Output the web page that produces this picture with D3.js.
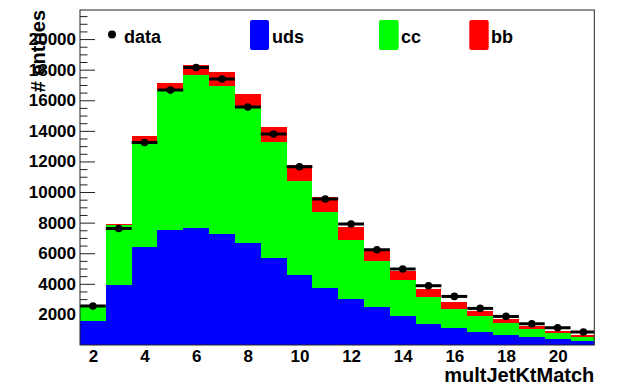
<!DOCTYPE html>
<html>
<head>
<meta charset="utf-8">
<script src="https://cdn.jsdelivr.net/npm/d3@7"></script>
<style>
  html, body { margin: 0; padding: 0; background: #fff; }
  svg { display: block; }
  text { font-family: "Liberation Sans", Arial, Helvetica, sans-serif; font-weight: bold; fill: #000; }
</style>
</head>
<body>
<svg id="chart" width="619" height="387"></svg>
<script>
// multJetKtMatch distribution: stacked flavour contributions and measured data
const bins = [2, 3, 4, 5, 6, 7, 8, 9, 10, 11, 12, 13, 14, 15, 16, 17, 18, 19, 20, 21];
const uds  = [1590, 3940, 6425, 7536, 7621, 7229, 6667, 5706, 4595, 3745, 2980, 2458, 1915, 1392, 1085, 869, 654, 497, 392, 281];
const cc   = [960, 3877, 6928, 9129, 10001, 9719, 8823, 7562, 6144, 4967, 3902, 3052, 2307, 1765, 1287, 1000, 758, 549, 392, 261];
const bb   = [20, 63, 327, 479, 698, 870, 915, 1000, 1045, 961, 804, 699, 634, 523, 438, 353, 261, 196, 131, 131];
const dataCounts = [2550, 7620, 13242, 16665, 18144, 17386, 15555, 13790, 11654, 9542, 7908, 6229, 4967, 3876, 3176, 2392, 1869, 1392, 1131, 850];
const yMajorTicks = [2000, 4000, 6000, 8000, 10000, 12000, 14000, 16000, 18000, 20000];
const xTicks = [2, 4, 6, 8, 10, 12, 14, 16, 18, 20];
const seriesKeys = ["uds", "cc", "bb"];
const seriesColors = { uds: "#0000ff", cc: "#00ff00", bb: "#ff0000" };

const svg = d3.select("#chart");
const pLeft = 80, pRight = 594.3, pTop = 10, pBottom = 345;

const x = d3.scaleLinear().domain([1.5, 21.42]).range([pLeft, pRight]);
const y = d3.scaleLinear().domain([0, 21900]).range([pBottom, pTop]);

svg.append("defs").append("clipPath").attr("id", "plotclip")
  .append("rect").attr("x", pLeft).attr("y", pTop)
  .attr("width", pRight - pLeft).attr("height", pBottom - pTop);

// y axis: minor and major ticks pointing into the frame
const minorVals = d3.range(500, 21900, 500).filter(v => v % 2000 !== 0);
const yMinor = svg.append("g").attr("transform", `translate(${pLeft},0)`)
  .call(d3.axisLeft(y).tickValues(minorVals).tickSize(-7.5).tickFormat(""));
yMinor.select(".domain").remove();
yMinor.selectAll("line").attr("stroke", "#222");

const yMajor = svg.append("g").attr("transform", `translate(${pLeft},0)`)
  .call(d3.axisLeft(y).tickValues(yMajorTicks).tickSize(-15).tickPadding(4).tickFormat(d3.format("d")));
yMajor.select(".domain").remove();
yMajor.selectAll("line").attr("stroke", "#222");
yMajor.selectAll("text").attr("font-size", 17).attr("font-family", null).style("font-weight", "bold");

// stacked histogram
const rows = bins.map((b, i) => ({ bin: b, uds: uds[i], cc: cc[i], bb: bb[i] }));
const stacked = d3.stack().keys(seriesKeys)(rows);

const plot = svg.append("g").attr("clip-path", "url(#plotclip)");
plot.selectAll("g.layer").data(stacked).join("g")
  .attr("class", "layer")
  .attr("fill", d => seriesColors[d.key])
  .selectAll("rect").data(d => d).join("rect")
  .attr("x", d => x(d.data.bin - 0.5))
  .attr("width", d => x(d.data.bin + 0.5) - x(d.data.bin - 0.5))
  .attr("y", d => y(d[1]))
  .attr("height", d => y(d[0]) - y(d[1]))
  .attr("shape-rendering", "crispEdges");

// data points with bin-width horizontal bars
const pts = bins.map((b, i) => ({ bin: b, v: dataCounts[i] }));
plot.selectAll("line.xerr").data(pts).join("line")
  .attr("class", "xerr")
  .attr("x1", d => x(d.bin - 0.5)).attr("x2", d => x(d.bin + 0.5))
  .attr("y1", d => y(d.v)).attr("y2", d => y(d.v))
  .attr("stroke", "#000").attr("stroke-width", 3);
plot.selectAll("circle.pt").data(pts).join("circle")
  .attr("class", "pt")
  .attr("cx", d => x(d.bin)).attr("cy", d => y(d.v)).attr("r", 3.8)
  .attr("fill", "#000");

// frame
svg.append("rect").attr("x", pLeft).attr("y", pTop)
  .attr("width", pRight - pLeft).attr("height", pBottom - pTop)
  .attr("fill", "none").attr("stroke", "#222").attr("stroke-width", 1);

// x axis labels
const xAxis = svg.append("g").attr("transform", `translate(0,${pBottom})`)
  .call(d3.axisBottom(x).tickValues(xTicks).tickSize(0).tickPadding(5).tickFormat(d3.format("d")));
xAxis.select(".domain").remove();
xAxis.selectAll("text").attr("font-size", 17).attr("font-family", null).style("font-weight", "bold");

// axis titles
svg.append("text").attr("x", pRight).attr("y", 381.5).attr("text-anchor", "end")
  .attr("font-size", 20).text("multJetKtMatch");
svg.append("text").attr("transform", "translate(45,10) rotate(-90)").attr("text-anchor", "end")
  .attr("font-size", 20).text("# entries");

// legend
const legend = svg.append("g");
legend.append("circle").attr("cx", 112).attr("cy", 34.5).attr("r", 4).attr("fill", "#000");
legend.append("text").attr("x", 124).attr("y", 42.5).attr("font-size", 18).text("data");
const legendItems = [
  { key: "uds", x0: 250, x1: 269, tx: 272 },
  { key: "cc", x0: 379, x1: 398.7, tx: 401 },
  { key: "bb", x0: 469.3, x1: 488.7, tx: 491 }
];
legendItems.forEach(it => {
  legend.append("rect").attr("x", it.x0).attr("y", 20).attr("width", it.x1 - it.x0).attr("height", 30)
    .attr("rx", 2).attr("fill", seriesColors[it.key]);
  legend.append("text").attr("x", it.tx).attr("y", 42.5).attr("font-size", 18).text(it.key);
});
</script>
</body>
</html>
